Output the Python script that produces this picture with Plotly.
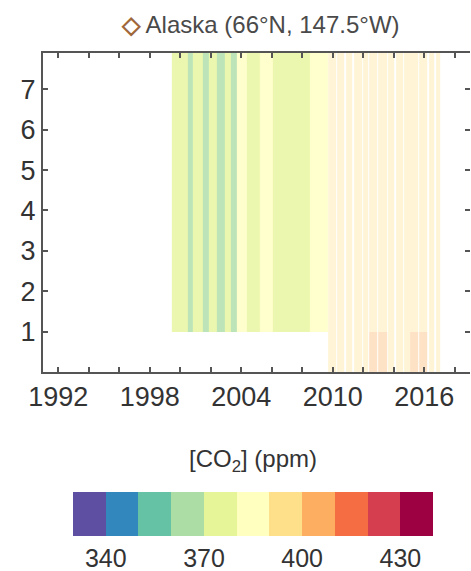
import plotly.graph_objects as go

# ---- data ----
# profile time spans (decimal years)
profile_start = [1999.45, 1999.95, 2000.50, 2000.85, 2001.45, 2001.90, 2002.40, 2002.90, 2003.30, 2003.70,
                 2004.35, 2005.20, 2006.05, 2007.00, 2007.75, 2008.50,
                 2009.70, 2010.30, 2010.85, 2011.40, 2012.00, 2012.40, 2012.95, 2013.65, 2014.15, 2014.70,
                 2015.10, 2015.65, 2016.30, 2016.75]
profile_end = [1999.95, 2000.50, 2000.85, 2001.45, 2001.90, 2002.40, 2002.90, 2003.30, 2003.70, 2004.35,
               2005.20, 2006.05, 2007.00, 2007.75, 2008.50, 2009.65,
               2010.20, 2010.75, 2011.30, 2011.90, 2012.35, 2012.90, 2013.55, 2014.05, 2014.60, 2015.05,
               2015.60, 2016.20, 2016.65, 2017.05]
# altitude band edges (km)
alt_edges = [0.0, 0.5, 1.0, 3.0, 5.5, 7.9]
# CO2 (ppm) in each altitude band, per profile
co2_0_05 = [None] * 16 + [392, 391, 393, 392, 394, 404, 405, 396, 396, 397, 406, 405, 399, 398]
co2_05_1 = [None] * 16 + [392, 391, 393, 392, 394, 403, 402, 396, 396, 397, 405, 404, 399, 398]
co2_1_3 = [372, 371, 369, 373, 369, 372, 368, 371, 369, 381,
           376, 382, 379, 377, 378, 383,
           392, 391, 393, 392, 394, 394, 395, 396, 396, 397, 398, 398, 399, 398]
co2_3_55 = [372, 371, 369, 373, 369, 372, 368, 371, 369, 381,
            376, 382, 379, 377, 378, 383,
            392, 391, 393, 392, 394, 394, 395, 396, 397, 397, 398, 398, 399, 398]
co2_55_79 = [372, 371, 369, 373, 369, 372, 368, 371, 369, 381,
             376, 382, 379, 377, 378, 383,
             392, 391, 393, 392, 394, 394, 394, 396, 396, 397, 397, 398, 399, 398]

period_split = 2009.68  # earlier / later campaigns drawn with different transparency

x_tick_vals = list(range(1992, 2019, 2))
x_tick_labels = ["1992", "", "", "1998", "", "", "2004", "", "", "2010", "", "", "2016", ""]
y_tick_vals = [1, 2, 3, 4, 5, 6, 7]
cbar_ticks = [340, 370, 400, 430]

colors11 = ['#5e4fa2', '#3288bd', '#66c2a5', '#abdda4', '#e6f598', '#ffffbf',
            '#fee08b', '#fdae61', '#f46d43', '#d53e4f', '#9e0142']

bands = [co2_0_05, co2_05_1, co2_1_3, co2_3_55, co2_55_79]


def build_grid(idx):
    x_edges = [profile_start[idx[0]]]
    cols = []
    for i in idx:
        s, e = profile_start[i], profile_end[i]
        if s > x_edges[-1] + 1e-9:
            x_edges.append(s)
            cols.append([None] * len(bands))
        x_edges.append(e)
        cols.append([b[i] for b in bands])
    z = [[c[r] for c in cols] for r in range(len(bands))]
    return x_edges, z


cscale = []
n = len(colors11)
for i, c in enumerate(colors11):
    cscale.append([i / n, c])
    cscale.append([(i + 1) / n, c])

early = [i for i, s in enumerate(profile_start) if s < period_split]
late = [i for i, s in enumerate(profile_start) if s >= period_split]

fig = go.Figure()
for idx, op, show in [(early, 0.78, True), (late, 0.36, False)]:
    xe, z = build_grid(idx)
    fig.add_trace(go.Heatmap(
        x=xe, y=alt_edges, z=z,
        zmin=330, zmax=440, colorscale=cscale, opacity=op,
        hoverongaps=False, showscale=show,
        colorbar=dict(
            orientation='h', x=0.492, xanchor='center', y=-0.376, yanchor='top',
            len=360, lenmode='pixels', thickness=44, outlinewidth=0,
            tickvals=cbar_ticks, ticks='', xpad=0, ypad=0,
            tickfont=dict(size=25, color='#333333', family='Liberation Sans'),
        ),
    ))
# invisible helper for right-side mirrored ticks
fig.add_trace(go.Scatter(x=[1991], y=[0], yaxis='y2', mode='markers',
                         marker=dict(opacity=0), showlegend=False, hoverinfo='skip'))

axis_font = dict(size=27, color='#333333', family='Liberation Sans')
fig.update_layout(
    width=471, height=571,
    margin=dict(l=43, r=1, t=53, b=199),
    paper_bgcolor='white', plot_bgcolor='white',
    font=dict(family='Liberation Sans', color='#333333'),
    title=dict(
        text='<span style="color:#a0683a"><b>◇</b></span> Alaska (66°N, 147.5°W)',
        x=0.554, xanchor='center', xref='container',
        y=1 - 25 / 571, yanchor='middle', yref='container',
        font=dict(size=24, color='#4a4a4a', family='Liberation Sans'),
    ),
    xaxis=dict(
        range=[1991, 2019], tickvals=x_tick_vals, ticktext=x_tick_labels,
        ticks='inside', ticklen=5, tickwidth=1.5, tickcolor='#555',
        showline=True, linecolor='#555', linewidth=2, mirror='ticks',
        showgrid=False, zeroline=False, tickfont=axis_font,
    ),
    yaxis=dict(
        range=[0, 7.9], tickvals=y_tick_vals,
        ticks='inside', ticklen=5, tickwidth=1.5, tickcolor='#555',
        showline=True, linecolor='#555', linewidth=2,
        showgrid=False, zeroline=False, tickfont=axis_font,
    ),
    yaxis2=dict(
        overlaying='y', side='right', matches='y', tickvals=y_tick_vals,
        ticks='inside', ticklen=5, tickwidth=1.5, tickcolor='#555',
        showticklabels=False, showline=False, showgrid=False, zeroline=False,
    ),
    annotations=[dict(
        text='[CO<sub>2</sub>] (ppm)', x=0.492, xref='paper', xanchor='center',
        y=(372 - 460) / 319, yref='paper', yanchor='middle', showarrow=False,
        font=dict(size=24, color='#333333', family='Liberation Sans'),
    )],
)

fig.write_html("out.html")
